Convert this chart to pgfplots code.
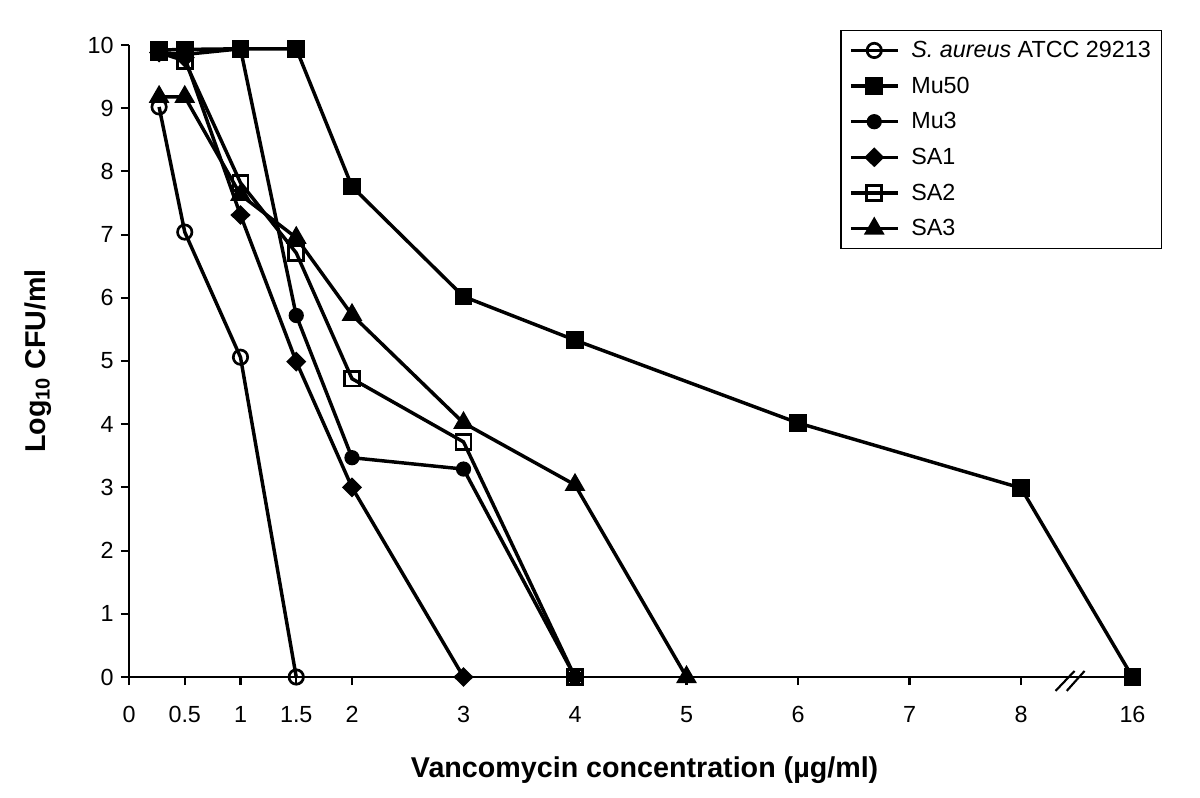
\documentclass[border=0pt]{standalone}
\usepackage{pgfplots}
\pgfplotsset{compat=1.18}
\usepackage{fontspec}
\setmainfont{Liberation Sans}
\begin{document}
\begin{tikzpicture}
\useasboundingbox (-96.75pt,-90pt) rectangle (803.25pt,507.75pt);
\begin{axis}[
  scale only axis, width=756.8pt, height=474pt,
  xmin=0, xmax=9.05, ymin=0, ymax=10,
  clip=false,
  axis x line*=bottom, axis y line*=left,
  axis line style={line width=1.6pt},
  tick align=outside, major tick length=6pt,
  tick style={line width=1.6pt, black},
  xtick={0,0.5,1,1.5,2,3,4,5,6,7,8,9},
  xticklabels={0,\raisebox{-2.5pt}{0.5},1,\raisebox{-2.5pt}{1.5},2,3,4,5,6,7,8,16},
  ytick={0,1,...,10},
  /pgf/number format/assume math mode=true,
  tick label style={font=\fontsize{17.5}{20}\selectfont},
  xticklabel style={yshift=-12.5pt},
  yticklabel style={xshift=-2pt},
  xlabel={\bfseries Vancomycin concentration (µg/ml)},
  ylabel={\bfseries Log\textsubscript{10} CFU/ml},
  xlabel style={at={(axis description cs:0.511,-0.147)}, anchor=center, font=\fontsize{21.5}{24}\selectfont},
  ylabel style={at={(axis description cs:-0.0905,0.5)}, anchor=center, font=\fontsize{21.5}{24}\selectfont},
  legend style={at={(axis description cs:0.705,1.024)}, anchor=north west, draw=black, line width=1.2pt,
    font=\fontsize{17.5}{20}\selectfont, row sep=9pt, inner sep=6pt, cells={anchor=west}},
  legend image code/.code={\draw[mark repeat=2,mark phase=2] plot coordinates {(0pt,0pt)(17.5pt,0pt)(35pt,0pt)};},
  every axis plot/.append style={black, line width=2.6pt, mark options={solid, line width=2pt, black}},
]
\addplot[mark=o, mark size=5.4pt] coordinates {(0.27,9.02)(0.5,7.04)(1,5.06)(1.5,0)};
\addlegendentry{\hspace*{7pt}\textit{S. aureus} ATCC 29213}
\addplot[mark=square*, mark size=5.6pt] coordinates {(0.27,9.92)(0.5,9.93)(1,9.94)(1.5,9.94)(2,7.76)(3,6.02)(4,5.33)(6,4.02)(8,2.99)(9,0)};
\addlegendentry{\hspace*{7pt}Mu50}
\addplot[mark=*, mark size=4.7pt] coordinates {(0.27,9.88)(0.5,9.85)(1,9.94)(1.5,5.72)(2,3.47)(3,3.29)(4,0)};
\addlegendentry{\hspace*{7pt}Mu3}
\addplot[mark=diamond*, mark size=5.6pt, mark options={xscale=1.35}] coordinates {(0.27,9.88)(0.5,9.8)(1,7.31)(1.5,4.99)(2,3.0)(3,0)};
\addlegendentry{\hspace*{7pt}SA1}
\addplot[mark=square, mark size=5.6pt] coordinates {(0.27,9.88)(0.5,9.75)(1,7.82)(1.5,6.71)(2,4.72)(3,3.72)(4,0)};
\addlegendentry{\hspace*{7pt}SA2}
\addplot[mark=triangle*, mark size=7pt] coordinates {(0.27,9.18)(0.5,9.18)(1,7.63)(1.5,6.95)(2,5.73)(3,4.02)(4,3.04)(5,0)};
\addlegendentry{\hspace*{7pt}SA3}
\draw[line width=1.6pt] (axis cs:8.31,-0.22) -- (axis cs:8.48,0.095);
\draw[line width=1.6pt] (axis cs:8.41,-0.22) -- (axis cs:8.57,0.095);
\end{axis}
\end{tikzpicture}
\end{document}
